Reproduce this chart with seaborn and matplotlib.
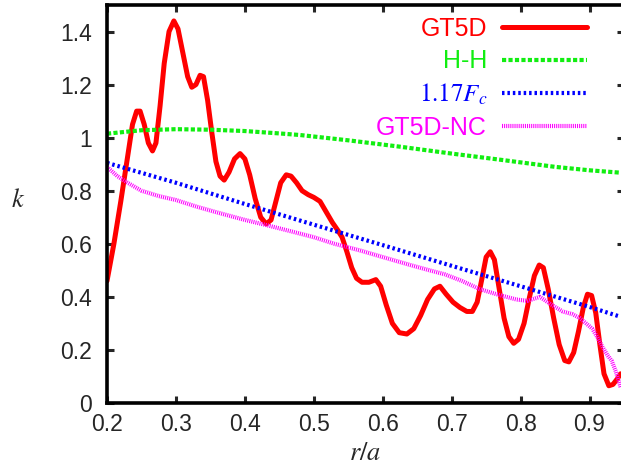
import numpy as np
import pandas as pd
import matplotlib
matplotlib.use("Agg")
import matplotlib.pyplot as plt
import seaborn as sns

# GT5D (with collisions) conductivity profile k(r/a)
gt5d_r = [0.200, 0.210, 0.220, 0.230, 0.237, 0.243, 0.248, 0.254, 0.260, 0.266,
          0.271, 0.277, 0.283, 0.290, 0.297, 0.303, 0.310, 0.317, 0.323, 0.329,
          0.335, 0.340, 0.346, 0.352, 0.358, 0.364, 0.370, 0.377, 0.385, 0.393,
          0.400, 0.407, 0.415, 0.423, 0.431, 0.438, 0.445, 0.452, 0.460, 0.467,
          0.475, 0.483, 0.492, 0.500, 0.509, 0.518, 0.527, 0.535, 0.541, 0.548,
          0.555, 0.562, 0.570, 0.580, 0.590, 0.597, 0.605, 0.614, 0.624, 0.635,
          0.645, 0.655, 0.665, 0.675, 0.683, 0.692, 0.702, 0.712, 0.722, 0.730,
          0.737, 0.744, 0.750, 0.756, 0.762, 0.769, 0.776, 0.783, 0.790, 0.797,
          0.805, 0.813, 0.820, 0.827, 0.833, 0.840, 0.848, 0.856, 0.864, 0.870,
          0.877, 0.884, 0.891, 0.897, 0.903, 0.909, 0.915, 0.921, 0.928, 0.934,
          0.940, 0.945]
gt5d_k = [0.46, 0.60, 0.76, 0.93, 1.05, 1.10, 1.10, 1.05, 0.98, 0.95,
          0.98, 1.12, 1.28, 1.40, 1.44, 1.41, 1.32, 1.23, 1.19, 1.20,
          1.235, 1.23, 1.14, 1.02, 0.91, 0.855, 0.84, 0.87, 0.92, 0.94,
          0.92, 0.86, 0.77, 0.70, 0.675, 0.69, 0.76, 0.83, 0.86, 0.855,
          0.83, 0.80, 0.785, 0.775, 0.76, 0.72, 0.68, 0.65, 0.625, 0.57,
          0.51, 0.47, 0.455, 0.455, 0.465, 0.44, 0.37, 0.30, 0.265, 0.26,
          0.28, 0.33, 0.39, 0.43, 0.44, 0.41, 0.38, 0.36, 0.345, 0.345,
          0.38, 0.47, 0.55, 0.57, 0.54, 0.43, 0.32, 0.25, 0.225, 0.24,
          0.30, 0.40, 0.48, 0.52, 0.51, 0.43, 0.32, 0.22, 0.16, 0.155,
          0.19, 0.27, 0.36, 0.41, 0.405, 0.34, 0.22, 0.11, 0.065, 0.07,
          0.09, 0.11]

# Hinton-Hazeltine neoclassical estimate
hh_r = [0.20, 0.25, 0.30, 0.35, 0.40, 0.45, 0.48, 0.55, 0.625, 0.70, 0.77, 0.85, 0.90, 0.945]
hh_k = [1.015, 1.028, 1.032, 1.030, 1.025, 1.016, 1.010, 0.99, 0.966, 0.94, 0.917, 0.89, 0.877, 0.868]

# Chang-Hinton based estimate, scaled by 1.17
fc_r = [0.20, 0.30, 0.40, 0.50, 0.60, 0.70, 0.80, 0.90, 0.945]
fc_k = [0.905, 0.83, 0.75, 0.672, 0.595, 0.517, 0.44, 0.362, 0.325]

# GT5D run without collisions
nc_r = [0.200, 0.215, 0.230, 0.250, 0.275, 0.300, 0.330, 0.360, 0.400, 0.432,
        0.470, 0.500, 0.530, 0.567, 0.600, 0.640, 0.668, 0.690, 0.715, 0.740,
        0.765, 0.794, 0.810, 0.828, 0.845, 0.861, 0.875, 0.886, 0.895, 0.904,
        0.912, 0.919, 0.926, 0.932, 0.938, 0.945]
nc_k = [0.89, 0.855, 0.83, 0.80, 0.78, 0.765, 0.74, 0.718, 0.69, 0.67,
        0.645, 0.625, 0.60, 0.575, 0.55, 0.52, 0.50, 0.485, 0.46, 0.43,
        0.41, 0.39, 0.385, 0.40, 0.37, 0.345, 0.335, 0.32, 0.30, 0.28,
        0.245, 0.21, 0.18, 0.16, 0.12, 0.06]

x_ticks = [0.2, 0.3, 0.4, 0.5, 0.6, 0.7, 0.8, 0.9]
y_ticks = [0, 0.2, 0.4, 0.6, 0.8, 1.0, 1.2, 1.4]
y_tick_labels = ["0", "0.2", "0.4", "0.6", "0.8", "1", "1.2", "1.4"]

sns.set_style("ticks")
plt.rcParams["font.family"] = ["Liberation Sans", "DejaVu Sans"]
plt.rcParams["mathtext.fontset"] = "stix"

fig = plt.figure(figsize=(6.21, 4.72), dpi=100)
ax = fig.add_axes([107 / 621, 69 / 472, (624 - 107) / 621, (467 - 69) / 472])

series = [
    ("GT5D", gt5d_r, gt5d_k, dict(color="#ff0000", lw=3.6, ls="-")),
    ("H-H", hh_r, hh_k, dict(color="#11ee11", lw=3.0, ls=(0, (1.0, 0.55)))),
    ("$1.17F_c$", fc_r, fc_k, dict(color="#0000ff", lw=3.0, ls=(0, (0.6, 0.7)))),
    ("GT5D-NC", nc_r, nc_k, dict(color="#ff00ff", lw=3.0, ls=(0, (0.25, 0.25)))),
]
for label, r, k, style in series:
    df = pd.DataFrame({"r": r, "k": k})
    sns.lineplot(data=df, x="r", y="k", ax=ax, label=label, sort=False,
                 color=style["color"], linewidth=style["lw"], linestyle=style["ls"])

ax.set_xlim(0.2, 0.95)
ax.set_ylim(0, 1.5)
ax.set_xticks(x_ticks)
ax.set_xticklabels([f"{t:g}" for t in x_ticks])
ax.set_yticks(y_ticks)
ax.set_yticklabels(y_tick_labels)
ax.tick_params(direction="in", length=5, width=2.2, labelsize=16.5,
               top=True, right=True)
ax.tick_params(axis="x", pad=7)
ax.tick_params(axis="y", pad=11)
for sp in ax.spines.values():
    sp.set_linewidth(2.6)
    sp.set_color("black")

ax.set_xlabel("$r/a$", fontsize=19, labelpad=4)
ax.set_ylabel("$k$", fontsize=19, rotation=0, labelpad=0, va="center")
ax.yaxis.set_label_coords(-0.172, 0.51)

leg = ax.legend(loc="upper right", bbox_to_anchor=(587 / 621, 1 - 17 / 472),
                bbox_transform=fig.transFigure, frameon=False, markerfirst=False,
                fontsize=18, handlelength=3.4, handletextpad=0.6,
                labelspacing=0.34, borderpad=0, borderaxespad=0,
                labelcolor="linecolor")

fig.savefig("out.png", dpi=100)
